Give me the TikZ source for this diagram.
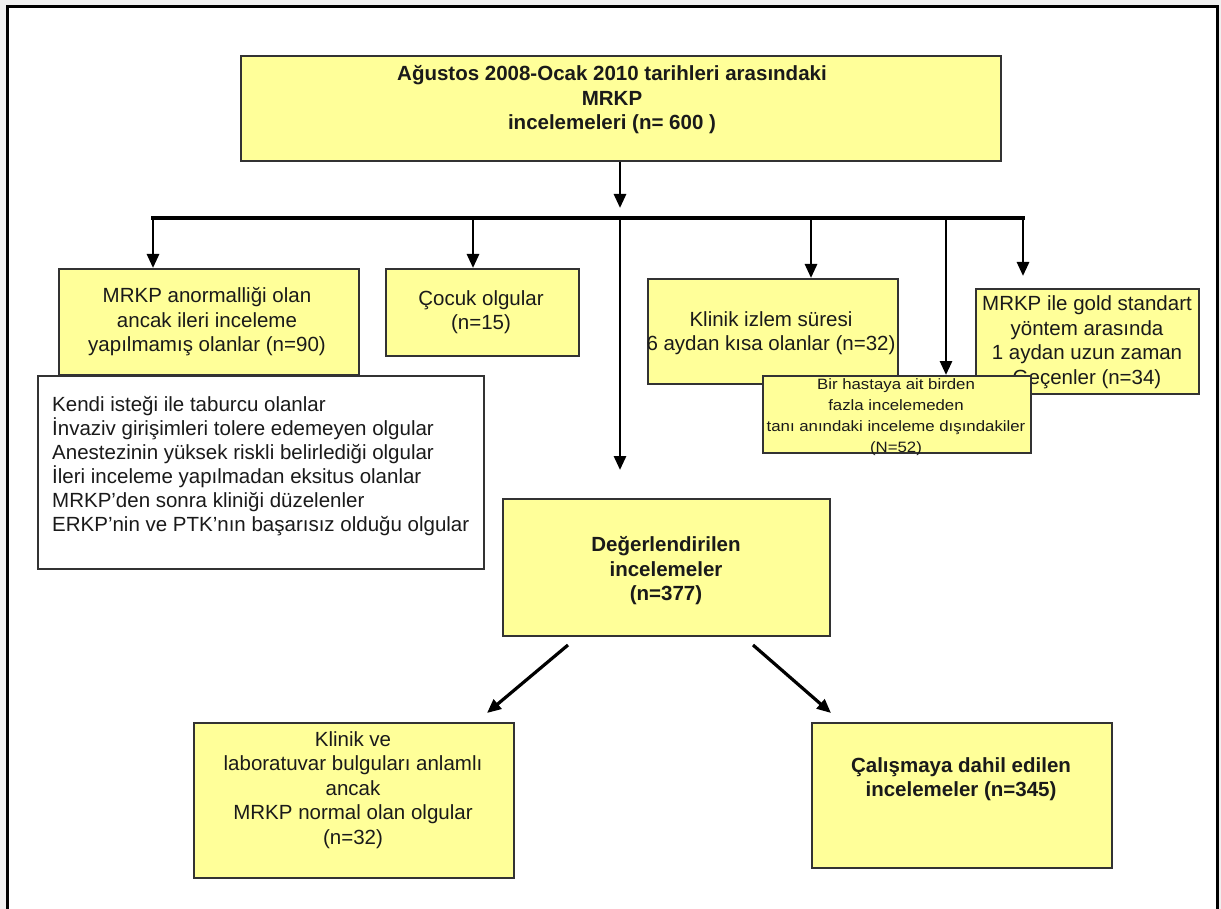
\documentclass[tikz,border=0pt]{standalone}
\usepackage{fontspec}
\setmainfont{Liberation Sans}
\newfontfamily\stretchfont[FakeStretch=1.12]{Liberation Sans}
\usetikzlibrary{arrows.meta}
\definecolor{boxyellow}{HTML}{FFFF99}
\definecolor{boxline}{HTML}{333333}
\definecolor{txtcol}{HTML}{1A1A1A}
\begin{document}
\begin{tikzpicture}[x=1pt,y=-1pt,
  ybox/.style={draw=boxline, line width=1.6pt, fill=boxyellow, inner sep=0pt, anchor=north west},
  wbox/.style={draw=boxline, line width=1.6pt, fill=white, inner sep=0pt, anchor=north west},
  txt/.style={align=center, inner sep=0pt, text=txtcol, font=\fontsize{20.5}{24.5}\selectfont},
  btxt/.style={align=center, inner sep=0pt, text=txtcol, font=\fontsize{20.5}{24.5}\selectfont\bfseries},
  stxt/.style={align=center, inner sep=0pt, text=txtcol, font=\fontsize{15}{21}\stretchfont},
  arr/.style={line width=2.8pt, draw=black, -{Triangle[length=14pt,width=12pt]}},
  bar/.style={line width=4pt, draw=black},
]
\useasboundingbox (0,0) rectangle (1221,909);
\fill[gray!12] (0,0) rectangle (1221,909);
\fill[white] (7.5,6.5) rectangle (1217.5,920);
\draw[line width=3pt, line join=miter] (7.5,920) -- (7.5,6.5) -- (1217.5,6.5) -- (1217.5,920);

% boxes
\node[ybox, minimum width=760pt, minimum height=105pt] (top) at (240,55) {};
\node[btxt] (toptext) at (612,100) {Ağustos 2008-Ocak 2010 tarihleri arasındaki\\MRKP\\incelemeleri (n= 600 )};

\node[ybox, minimum width=300pt, minimum height=106pt] (anorm) at (58,268) {};
\node[txt] (anormtext) at (207,322) {MRKP anormalliği olan\\ancak ileri inceleme\\yapılmamış olanlar (n=90)};

\node[wbox, minimum width=446pt, minimum height=193pt] (list) at (37,375) {};
\node[txt, align=left, anchor=west, font=\fontsize{20.5}{24}\selectfont] (listtext) at (52,466) {Kendi isteği ile taburcu olanlar\\İnvaziv girişimleri tolere edemeyen olgular\\Anestezinin yüksek riskli belirlediği olgular\\İleri inceleme yapılmadan eksitus olanlar\\MRKP’den sonra kliniği düzelenler\\ERKP’nin ve PTK’nın başarısız olduğu olgular};

\node[ybox, minimum width=193pt, minimum height=87pt] (cocuk) at (385,268) {};
\node[txt] (cocuktext) at (481,312) {Çocuk olgular\\(n=15)};

\node[ybox, minimum width=250pt, minimum height=105pt] (izlem) at (647,278) {};
\node[txt] (izlemtext) at (771,333) {Klinik izlem süresi\\6 aydan kısa olanlar (n=32)};

\node[ybox, minimum width=223pt, minimum height=105pt] (gold) at (975,288) {};
\node[txt] (goldtext) at (1087,342) {MRKP ile gold standart\\yöntem arasında\\1 aydan uzun zaman\\Geçenler (n=34)};

\node[ybox, minimum width=268pt, minimum height=77pt] (hasta) at (762,375) {};
\node[stxt] (hastatext) at (896,417) {Bir hastaya ait birden\\fazla incelemeden\\tanı anındaki inceleme dışındakiler\\(N=52)};

\node[ybox, minimum width=327pt, minimum height=137pt] (deg) at (502,498) {};
\node[btxt] (degtext) at (666,571) {Değerlendirilen\\incelemeler\\(n=377)};

\node[ybox, minimum width=320pt, minimum height=155pt] (normal) at (193,722) {};
\node[txt] (normaltext) at (353,790) {Klinik ve\\laboratuvar bulguları anlamlı\\ancak\\MRKP normal olan olgular\\(n=32)};

\node[ybox, minimum width=300pt, minimum height=145pt] (dahil) at (811,722) {};
\node[btxt] (dahiltext) at (961,779) {Çalışmaya dahil edilen\\incelemeler (n=345)};

% connectors
\coordinate (b0) at (620,218);
\coordinate (b1) at (153,218);
\coordinate (b2) at (473,218);
\coordinate (b4) at (811,218);
\coordinate (b5) at (946,218);
\coordinate (b6) at (1023,218);

\draw[arr, shorten >=10pt] (top.south -| b0) -- (b0);
\draw[bar, line cap=rect] (b1) -- (b6);
\draw[arr] (b1) -- (anorm.north -| b1);
\draw[arr] (b2) -- (cocuk.north -| b2);
\draw[arr, shorten >=28pt] (b0) -- (deg.north -| b0);
\draw[arr] (b4) -- (izlem.north -| b4);
\draw[arr] (b5) -- (hasta.north -| b5);
\draw[arr, shorten >=12pt] (b6) -- (gold.north -| b6);

\coordinate (dl1) at (568,645);
\coordinate (dl2) at (487,713);
\coordinate (dr1) at (753,645);
\coordinate (dr2) at (831,713);
\draw[arr, line width=3.2pt] (dl1) -- (dl2);
\draw[arr, line width=3.2pt] (dr1) -- (dr2);
\end{tikzpicture}
\end{document}
